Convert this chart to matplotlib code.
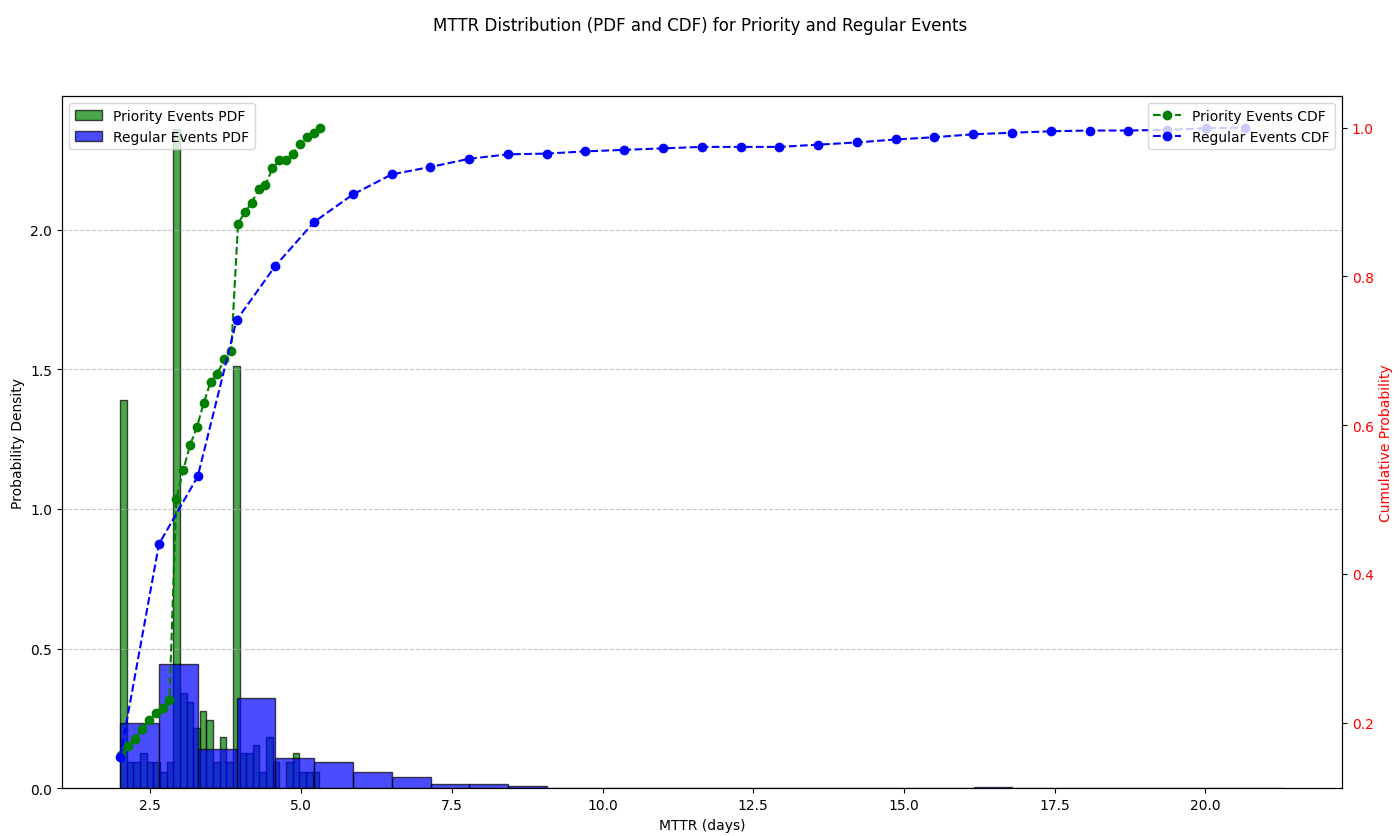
import numpy as np
import matplotlib
matplotlib.use("Agg")
import matplotlib.pyplot as plt

# Priority histogram (density), 30 bins from 2.0 to 5.3
pri_start, pri_end = 2.0, 5.3
pri_density = [1.39, 0.094, 0.094, 0.126, 0.094, 0.094, 0.06, 0.094, 2.36, 0.34,
               0.31, 0.215, 0.277, 0.245, 0.094, 0.183, 0.094, 1.51, 0.126, 0.126,
               0.155, 0.06, 0.183, 0.094, 0.0, 0.094, 0.126, 0.06, 0.06, 0.06]
# Regular histogram (density), 30 bins from 2.0 to 21.3
reg_start, reg_end = 2.0, 21.3
reg_density = [0.235, 0.445, 0.14, 0.325, 0.11, 0.093, 0.058, 0.04, 0.015, 0.015,
               0.007, 0.002, 0.002, 0.002, 0.002, 0.002, 0.0, 0.0, 0.002, 0.002,
               0.002, 0.002, 0.005, 0.002, 0.002, 0.0, 0.0, 0.002, 0.002, 0.002]

pri_cdf_x = np.linspace(2.02, 5.32, 30)
pri_cdf = [0.157, 0.168, 0.178, 0.192, 0.203, 0.213, 0.22, 0.231, 0.50, 0.539,
           0.573, 0.597, 0.63, 0.658, 0.669, 0.689, 0.70, 0.871, 0.886, 0.899,
           0.917, 0.923, 0.945, 0.956, 0.956, 0.965, 0.978, 0.987, 0.993, 1.0]
reg_cdf_x = np.linspace(2.0, 20.65, 30)
reg_cdf = [0.154, 0.44, 0.531, 0.741, 0.814, 0.873, 0.91, 0.937, 0.947, 0.958,
           0.964, 0.965, 0.968, 0.97, 0.972, 0.974, 0.974, 0.974, 0.977, 0.98,
           0.984, 0.987, 0.991, 0.993, 0.995, 0.996, 0.996, 0.997, 0.999, 1.0]

fig, ax = plt.subplots(figsize=(14, 8.37), dpi=100)
fig.subplots_adjust(left=0.0443, right=0.9586, top=0.884, bottom=0.057)

pe = np.linspace(pri_start, pri_end, len(pri_density) + 1)
re = np.linspace(reg_start, reg_end, len(reg_density) + 1)
ax.bar(pe[:-1], pri_density, width=np.diff(pe), align='edge', color='green',
       alpha=0.7, edgecolor='black', label='Priority Events PDF')
ax.bar(re[:-1], reg_density, width=np.diff(re), align='edge', color='blue',
       alpha=0.7, edgecolor='black', label='Regular Events PDF')
ax.set_xlabel('MTTR (days)')
ax.set_ylabel('Probability Density')
ax.grid(axis='y', linestyle='--', alpha=0.7)
ax.legend(loc='upper left')

ax2 = ax.twinx()
ax2.plot(pri_cdf_x, pri_cdf, 'o--', color='green', label='Priority Events CDF')
ax2.plot(reg_cdf_x, reg_cdf, 'o--', color='blue', label='Regular Events CDF')
ax2.set_ylabel('Cumulative Probability', color='red')
ax2.tick_params(axis='y', labelcolor='red')
ax2.legend(loc='upper right')

fig.suptitle('MTTR Distribution (PDF and CDF) for Priority and Regular Events')
fig.savefig('out.png')
